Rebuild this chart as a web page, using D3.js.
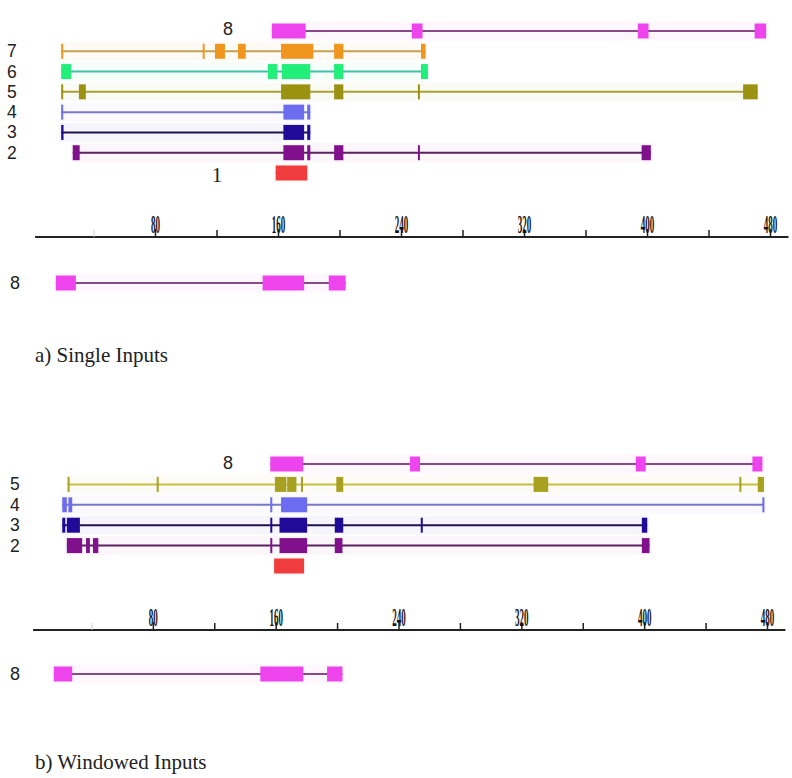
<!DOCTYPE html>
<html>
<head>
<meta charset="utf-8">
<script src="https://cdn.jsdelivr.net/npm/d3@7"></script>
<style>
  body { margin: 0; background: #fff; }
  svg { display: block; }
</style>
</head>
<body>
<div id="plot"></div>
<script>
// ---- data (positions along the axis) ----
const majorTicks = [80, 160, 240, 320, 400, 480];
const minorTicks = [120, 200, 280, 360, 440];
const faintTicks = [40];
const axisExtent = [2, 492];

const singleRows = ['8', '7', '6', '5', '4', '3', '2', '1'];
const single8 = [[156, 178], [247, 254], [394, 401], [470, 477.5]];
const single7 = [[19, 20], [111, 112], [119, 125.5], [134, 139], [162, 183], [196.5, 202.5], [253, 256]];
const single6 = [[19, 25.5], [153.5, 159.5], [162.5, 181], [196.5, 202.5], [253, 257.5]];
const single5 = [[19, 20], [30.5, 35], [162, 181], [196.5, 202.5], [251, 252], [462.5, 472]];
const single4 = [[19, 20], [163.5, 177], [179, 181]];
const single3 = [[19, 20.5], [163.5, 177], [179, 181]];
const single2 = [[26.5, 31], [163.5, 177], [179, 181], [196.5, 202.5], [251, 252], [396.5, 402.5]];
const single1 = [[158.5, 179]];
const singleRef8 = [[15.5, 28.5], [150, 177], [193, 204]];

const windowRows = ['8', '5', '4', '3', '2', '1'];
const window8 = [[156.5, 178], [247.5, 254], [394.5, 401], [470.5, 477]];
const window5 = [[24.5, 25.5], [82.5, 83.5], [159.5, 167], [167.5, 173.5], [176.5, 177.5], [199.5, 204], [328, 337.5], [462, 463], [474, 478]];
const window4 = [[21, 24], [25, 27.5], [156.5, 157.5], [163.5, 180.5], [477, 478]];
const window3 = [[21, 23], [24, 32.5], [156.5, 157.5], [162.5, 180.5], [198.5, 204], [254.5, 255.5], [398.5, 402]];
const window2 = [[24, 34], [36.5, 39], [41, 44.5], [156.5, 157.5], [162.5, 180.5], [198.5, 203.5], [398.5, 403.5]];
const window1 = [[159, 178.5]];
const windowRef8 = [[15.5, 27.5], [150, 178], [193.5, 203.5]];

// colours per row: [box, line]
const colors = {
  '8': ['#ee44ee', '#8a4a8a'],
  '7': ['#f0961e', '#c8a050'],
  '6': ['#22ee7a', '#40c0a8'],
  '5': ['#9c9212', '#a8a030'],
  '5w': ['#a8a020', '#c8c040'],
  '4': ['#6c6cf0', '#7878c8'],
  '3': ['#220a99', '#201050'],
  '2': ['#80108c', '#5a2060'],
  '1': ['#f03c3c', '#f03c3c'],
};

const width = 792, height = 778;
const boxH = 15;

const svg = d3.select('#plot')
  .append('svg')
  .attr('width', width)
  .attr('height', height);

svg.append('rect').attr('width', width).attr('height', height).attr('fill', '#fff');

function drawTrack(g, x, y, feats, key) {
  const c = colors[key];
  const lo = d3.min(feats, d => d[0]);
  const hi = d3.max(feats, d => d[1]);
  // pale halo, like the soft edges in the original
  g.append('rect')
    .attr('x', x(lo) - 2).attr('y', y - boxH / 2 - 2)
    .attr('width', x(hi) - x(lo) + 4).attr('height', boxH + 4)
    .attr('fill', c[0]).attr('opacity', 0.04);
  g.append('line')
    .attr('x1', x(lo)).attr('x2', x(hi))
    .attr('y1', y).attr('y2', y)
    .attr('stroke', c[1])
    .attr('stroke-width', 2);
  g.selectAll(null)
    .data(feats)
    .enter()
    .append('rect')
    .attr('x', d => x(d[0]))
    .attr('y', y - boxH / 2)
    .attr('width', d => Math.max(2, x(d[1]) - x(d[0])))
    .attr('height', boxH)
    .attr('fill', c[0]);
}

function drawAxis(x, axisY) {
  const g = svg.append('g').attr('transform', `translate(0,${axisY})`);
  g.append('line')
    .attr('x1', x(axisExtent[0])).attr('x2', x(axisExtent[1]))
    .attr('stroke', '#222').attr('stroke-width', 2);

  const faint = g.append('g').call(d3.axisTop(x).tickValues(faintTicks).tickSize(7).tickFormat(''));
  faint.select('.domain').remove();
  faint.selectAll('line').attr('stroke', '#ccc');

  const minor = g.append('g').call(d3.axisTop(x).tickValues(minorTicks).tickSize(7).tickFormat(''));
  minor.select('.domain').remove();
  minor.selectAll('line').attr('stroke', '#222').attr('stroke-width', 1.5);

  const major = g.append('g').call(d3.axisTop(x).tickValues(majorTicks).tickSize(8));
  major.select('.domain').remove();
  major.selectAll('line').attr('stroke', '#222').attr('stroke-width', 1.5);
  major.selectAll('text')
    .attr('y', 0).attr('dy', null)
    .attr('transform', 'translate(0,-4) scale(0.75,2.1)')
    .attr('fill', '#111')
    .style('font-family', '"Liberation Serif", serif')
    .style('font-size', '12px')
    .style('font-weight', 'bold');
}

function label(txt, px, py, anchor, size, family) {
  svg.append('text')
    .attr('x', px).attr('y', py)
    .attr('text-anchor', anchor)
    .attr('dominant-baseline', 'central')
    .style('font-family', family || '"Liberation Sans", sans-serif')
    .style('font-size', (size || 17.5) + 'px')
    .attr('fill', '#222')
    .text(txt);
}

function caption(txt, py) {
  svg.append('text')
    .attr('x', 35).attr('y', py)
    .style('font-family', '"Liberation Serif", serif')
    .style('font-size', '21px')
    .attr('fill', '#222')
    .text(txt);
}

// ---- panel a: single inputs ----
const xa = d3.scaleLinear().domain([0, 480]).range([32, 770]);
const ya = d3.scalePoint().domain(singleRows).range([31, 173]);
const gA = svg.append('g');
const singleData = [single8, single7, single6, single5, single4, single3, single2, single1];
singleRows.forEach((r, i) => drawTrack(gA, xa, ya(r), singleData[i], r));
label('8', 228, ya('8') - 2, 'middle', 18);
['7', '6', '5', '4', '3', '2'].forEach(r => label(r, 7, ya(r), 'start'));
label('1', 217, ya('1') + 2, 'middle', 21, '"Liberation Serif", serif');
drawAxis(xa, 237);
drawTrack(gA, xa, 283, singleRef8, '8');
label('8', 10, 283, 'start', 18);
caption('a) Single Inputs', 362);

// ---- panel b: windowed inputs ----
const xb = d3.scaleLinear().domain([0, 480]).range([30, 767]);
const yb = d3.scalePoint().domain(windowRows).range([464, 566]);
const gB = svg.append('g');
const windowData = [window8, window5, window4, window3, window2, window1];
windowRows.forEach((r, i) => drawTrack(gB, xb, yb(r), windowData[i], r === '5' ? '5w' : r));
label('8', 228, yb('8') - 1, 'middle', 18);
['5', '4', '3', '2'].forEach(r => label(r, 10, yb(r), 'start'));
drawAxis(xb, 630);
drawTrack(gB, xb, 674, windowRef8, '8');
label('8', 10, 674, 'start', 18);
caption('b) Windowed Inputs', 769);
</script>
</body>
</html>
